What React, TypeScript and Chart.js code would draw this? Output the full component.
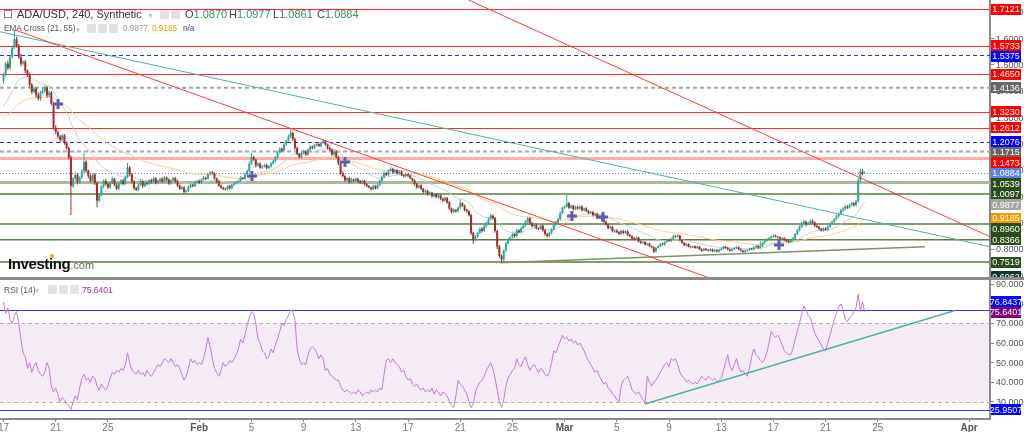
import React, { useEffect, useRef } from "react";
import { Chart, registerables } from "chart.js";

Chart.register(...registerables);

const FONT = '"Liberation Sans", Arial, Helvetica, sans-serif';

// ---------- time axis (days since Jan 17) ----------
const xTickDays = [0, 4, 8, 15, 19, 23, 27, 31, 35, 39, 43, 47, 51, 55, 59, 63, 67, 74];
const xTickLabels = ["17", "21", "25", "Feb", "5", "9", "13", "17", "21", "25", "Mar", "5", "9", "13", "17", "21", "25", "Apr"];
const candlesPerDay = 6; // 240-minute candles
const viewDays = [-0.27, 75.6];

// ---------- price (ADA/USD 4h) ----------
const firstOpen = 1.44;
const closes = [
  1.462, 1.505, 1.488, 1.530, 1.566, 1.598,
  1.572, 1.530, 1.505, 1.512, 1.478, 1.462,
  1.425, 1.398, 1.410, 1.385, 1.372, 1.395,
  1.402, 1.415, 1.384, 1.395, 1.352, 1.262,
  1.245, 1.228, 1.215, 1.232, 1.205, 1.185,
  1.148, 1.040, 1.068, 1.082, 1.055, 1.072,
  1.095, 1.132, 1.098, 1.078, 1.060, 1.084,
  1.052, 0.985, 1.005, 1.038, 1.060, 1.048,
  1.035, 1.052, 1.068, 1.045, 1.030, 1.050,
  1.062, 1.048, 1.075, 1.110, 1.085, 1.058,
  1.032, 1.025, 1.045, 1.058, 1.040, 1.052,
  1.048, 1.062, 1.055, 1.070, 1.052, 1.060,
  1.068, 1.058, 1.072, 1.065, 1.050, 1.062,
  1.070, 1.058, 1.042, 1.030, 1.035, 1.018,
  1.022, 1.038, 1.045, 1.040, 1.055, 1.060,
  1.052, 1.065, 1.072, 1.068, 1.085, 1.092,
  1.088, 1.070, 1.058, 1.042, 1.035, 1.030,
  1.028, 1.040, 1.032, 1.045, 1.050, 1.055,
  1.060, 1.072, 1.068, 1.085, 1.098, 1.125,
  1.150, 1.140, 1.118, 1.125, 1.110, 1.115,
  1.120, 1.108, 1.115, 1.125, 1.135, 1.150,
  1.168, 1.182, 1.175, 1.198, 1.212, 1.228,
  1.242, 1.218, 1.185, 1.162, 1.150, 1.165,
  1.172, 1.160, 1.178, 1.190, 1.185, 1.195,
  1.200, 1.192, 1.205, 1.210, 1.198, 1.185,
  1.178, 1.160, 1.172, 1.150, 1.125, 1.090,
  1.078, 1.062, 1.070, 1.055, 1.065, 1.060,
  1.068, 1.058, 1.052, 1.060, 1.048, 1.040,
  1.035, 1.028, 1.040, 1.032, 1.045, 1.060,
  1.075, 1.090, 1.082, 1.098, 1.105, 1.092,
  1.100, 1.088, 1.095, 1.082, 1.078, 1.085,
  1.080, 1.070, 1.062, 1.048, 1.035, 1.042,
  1.030, 1.018, 1.022, 1.008, 1.015, 1.002,
  1.010, 0.998, 1.005, 0.992, 0.985, 0.995,
  0.978, 0.955, 0.942, 0.950, 0.945, 0.958,
  0.975, 0.965, 0.950, 0.945, 0.930, 0.862,
  0.835, 0.848, 0.862, 0.878, 0.870, 0.888,
  0.900, 0.915, 0.928, 0.918, 0.870, 0.810,
  0.775, 0.762, 0.795, 0.822, 0.838, 0.845,
  0.858, 0.850, 0.872, 0.865, 0.880, 0.890,
  0.905, 0.918, 0.900, 0.888, 0.892, 0.880,
  0.878, 0.890, 0.872, 0.858, 0.850, 0.862,
  0.875, 0.892, 0.902, 0.915, 0.938, 0.958,
  0.962, 0.975, 0.958, 0.965, 0.952, 0.960,
  0.955, 0.962, 0.948, 0.955, 0.945, 0.938,
  0.942, 0.930, 0.935, 0.918, 0.925, 0.915,
  0.905, 0.895, 0.880, 0.885, 0.868, 0.872,
  0.865, 0.858, 0.870, 0.862, 0.868, 0.855,
  0.850, 0.842, 0.838, 0.845, 0.830, 0.825,
  0.828, 0.818, 0.822, 0.812, 0.808, 0.792,
  0.805, 0.812, 0.820, 0.818, 0.828, 0.835,
  0.832, 0.840, 0.850, 0.848, 0.852, 0.835,
  0.825, 0.815, 0.820, 0.810, 0.808, 0.812,
  0.805, 0.810, 0.800, 0.795, 0.802, 0.798,
  0.795, 0.800, 0.793, 0.797, 0.792, 0.798,
  0.802, 0.810, 0.805, 0.800, 0.795, 0.800,
  0.805, 0.808, 0.800, 0.795, 0.790, 0.795,
  0.798, 0.803, 0.800, 0.808, 0.812, 0.806,
  0.812, 0.825, 0.832, 0.838, 0.842, 0.848,
  0.852, 0.848, 0.845, 0.840, 0.842, 0.836,
  0.832, 0.828, 0.835, 0.842, 0.858, 0.872,
  0.885, 0.898, 0.905, 0.895, 0.900, 0.908,
  0.902, 0.890, 0.885, 0.878, 0.872, 0.880,
  0.875, 0.885, 0.898, 0.905, 0.915, 0.925,
  0.935, 0.948, 0.955, 0.962, 0.958, 0.968,
  0.975, 0.968, 0.982, 1.062, 1.095, 1.087,
  1.0884,
];
// wick extents beyond the body, in thousandths
const wickUp = [
  8, 6, 12, 5, 9, 34,
  10, 8, 12, 6, 7, 5,
  9, 6, 8, 5, 10, 6,
  12, 7, 5, 9, 6, 5,
  8, 6, 7, 5, 6, 4,
  5, 8, 6, 10, 7, 5,
  9, 34, 6, 5, 7, 6,
  6, 4, 8, 6, 5, 7,
  6, 5, 8, 4, 6, 5,
  4, 6, 5, 18, 6, 5,
  4, 6, 5, 7, 4, 5,
  5, 4, 6, 5, 4, 5,
  4, 6, 5, 4, 5, 4,
  5, 4, 6, 4, 5, 4,
  5, 4, 6, 4, 5, 4,
  5, 4, 6, 4, 5, 4,
  5, 4, 3, 5, 4, 3,
  4, 3, 5, 4, 3, 4,
  4, 5, 3, 6, 5, 8,
  16, 5, 4, 6, 5, 4,
  4, 5, 4, 6, 5, 4,
  6, 5, 4, 7, 5, 8,
  16, 5, 6, 4, 5, 4,
  5, 4, 6, 5, 4, 5,
  6, 5, 4, 8, 5, 4,
  4, 5, 6, 4, 5, 4,
  6, 5, 4, 5, 6, 4,
  5, 4, 5, 4, 3, 4,
  4, 3, 5, 4, 5, 6,
  5, 6, 4, 5, 8, 4,
  5, 4, 5, 4, 3, 4,
  4, 5, 3, 4, 5, 4,
  5, 4, 5, 4, 5, 4,
  5, 4, 6, 4, 5, 4,
  4, 5, 4, 6, 4, 5,
  15, 4, 5, 4, 3, 5,
  5, 6, 4, 5, 6, 4,
  5, 6, 7, 4, 5, 4,
  6, 5, 4, 6, 5, 4,
  5, 4, 6, 4, 5, 4,
  6, 5, 4, 5, 6, 4,
  4, 5, 4, 6, 5, 4,
  5, 4, 6, 5, 6, 4,
  5, 31, 6, 5, 4, 5,
  4, 5, 6, 4, 5, 4,
  5, 4, 5, 4, 5, 4,
  5, 4, 3, 5, 4, 3,
  4, 5, 4, 3, 5, 4,
  4, 3, 5, 4, 3, 4,
  3, 4, 3, 4, 3, 4,
  4, 3, 4, 5, 3, 4,
  4, 5, 6, 4, 5, 3,
  4, 3, 4, 3, 4, 3,
  3, 4, 3, 4, 3, 4,
  3, 4, 3, 4, 3, 4,
  3, 4, 3, 4, 3, 4,
  3, 4, 3, 4, 3, 4,
  3, 4, 3, 4, 5, 4,
  20, 4, 5, 4, 5, 4,
  5, 4, 3, 4, 5, 4,
  4, 3, 4, 5, 4, 5,
  5, 6, 8, 4, 5, 6,
  5, 4, 3, 4, 3, 4,
  4, 5, 4, 5, 4, 6,
  5, 6, 5, 6, 5, 6,
  5, 4, 6, 8, 12, 10,
  9.3,
];
const wickDown = [
  12, 8, 6, 9, 7, 5,
  6, 8, 10, 6, 9, 7,
  8, 9, 6, 10, 7, 8,
  6, 9, 10, 7, 5, 8,
  8, 7, 9, 6, 8, 6,
  6, 110, 7, 6, 9, 6,
  5, 6, 7, 8, 6, 5,
  8, 25, 6, 5, 6, 7,
  6, 5, 4, 6, 5, 6,
  5, 6, 4, 5, 6, 7,
  6, 5, 4, 5, 6, 4,
  5, 4, 5, 4, 6, 5,
  4, 5, 4, 6, 5, 4,
  4, 5, 6, 5, 4, 6,
  5, 4, 5, 4, 5, 4,
  4, 5, 4, 6, 4, 5,
  4, 5, 6, 4, 5, 6,
  5, 4, 5, 4, 5, 4,
  4, 5, 4, 5, 4, 5,
  5, 4, 6, 5, 4, 5,
  4, 5, 4, 5, 4, 5,
  5, 4, 5, 4, 5, 4,
  5, 6, 7, 5, 6, 5,
  4, 6, 5, 4, 5, 4,
  5, 4, 5, 4, 5, 6,
  5, 6, 4, 5, 6, 7,
  5, 6, 4, 5, 4, 5,
  4, 5, 4, 5, 6, 5,
  4, 5, 4, 5, 4, 5,
  4, 5, 4, 5, 4, 6,
  5, 4, 5, 4, 5, 4,
  5, 4, 5, 6, 5, 4,
  5, 6, 4, 5, 4, 6,
  5, 4, 5, 6, 5, 4,
  5, 6, 7, 5, 6, 5,
  5, 4, 5, 6, 5, 8,
  15, 5, 4, 5, 6, 4,
  5, 4, 5, 6, 7, 9,
  8, 10, 6, 5, 4, 5,
  5, 6, 4, 5, 4, 5,
  4, 5, 6, 5, 4, 5,
  5, 4, 5, 6, 5, 4,
  5, 4, 5, 4, 5, 4,
  5, 4, 5, 4, 5, 4,
  4, 5, 4, 5, 4, 5,
  4, 5, 4, 5, 4, 5,
  4, 5, 4, 5, 4, 5,
  4, 3, 4, 5, 4, 5,
  4, 5, 4, 3, 4, 5,
  4, 3, 4, 3, 4, 6,
  4, 3, 4, 3, 4, 3,
  3, 4, 3, 4, 3, 4,
  4, 3, 4, 3, 4, 3,
  3, 4, 3, 4, 3, 4,
  3, 4, 3, 4, 3, 4,
  3, 4, 3, 4, 3, 4,
  3, 4, 3, 4, 3, 4,
  3, 4, 3, 4, 3, 4,
  4, 3, 4, 3, 4, 3,
  4, 3, 4, 3, 4, 3,
  4, 5, 3, 4, 3, 4,
  4, 5, 4, 6, 4, 5,
  4, 5, 4, 5, 4, 5,
  4, 5, 4, 5, 4, 5,
  5, 4, 5, 6, 5, 4,
  5, 6, 5, 5, 8, 6,
  0.9,
];
const ema21Start = 1.33;
const ema55Start = 1.29;
const emaLast = [0.9877, 0.9185];
const lastOHLC = [1.087, 1.0977, 1.0861, 1.0884];

const priceTicks = [0.7, 0.8, 0.9, 1.0, 1.1, 1.2, 1.3, 1.4, 1.5, 1.6, 1.7];
const priceRange = [0.695, 1.7463];
const priceLevels = [1.7121, 1.5733, 1.5375, 1.465, 1.4136, 1.323, 1.2612, 1.2076, 1.1715, 1.1473, 1.0884, 1.0539, 1.0097, 0.896, 0.8366, 0.7519, 0.6962];
const priceLevelKinds = ["red", "red", "blueDash", "red", "grayDash", "red", "red", "blueDash", "grayDash", "pink", "current", "sage", "green", "green", "green", "green", "dark"];

const crossDays = [4.18, 19.04, 26.17, 43.56, 45.94, 59.43];
const crossPrices = [1.3516, 1.0783, 1.1314, 0.9265, 0.9227, 0.8164];

const trendRed1 = [[0.88, 1.6324], [54.9, 0.6772]];
const trendRed2 = [[35.65, 1.7463], [75.59, 0.848]];
const trendTeal = [[-0.27, 1.6259], [75.59, 0.81]];
const trendSupport = [[38.05, 0.7493], [70.61, 0.81]];

// ---------- RSI (14) ----------
const rsi = [
  81, 75, 78, 72, 70, 74,
  76, 70, 62, 55, 53, 47,
  50, 45, 48, 50, 46, 44,
  43, 45, 50, 47, 38, 35,
  37, 34, 30, 32, 31, 29,
  28, 26, 30, 33, 31, 37,
  42, 44, 41, 42, 40, 43,
  42, 38, 36, 39, 37, 36,
  38, 42, 45, 44, 46, 45,
  47, 46, 49, 55, 50, 46,
  45, 44, 46, 44, 45, 43,
  46, 44, 43, 45, 47, 49,
  48, 50, 52, 51, 50, 52,
  50, 48, 49, 47, 44, 41,
  43, 47, 52, 50, 51, 49,
  50, 49, 52, 57, 63, 58,
  52, 47, 45, 43, 46, 50,
  48, 49, 51, 50, 52, 54,
  57, 62, 60, 64, 69, 73,
  76, 75, 70, 62, 60, 56,
  55, 52, 53, 57, 55, 59,
  62, 66, 70, 69, 72, 74,
  77, 76, 72, 57, 52, 49,
  50, 49, 54, 57, 58, 57,
  55, 52, 54, 52, 46, 47,
  44, 43, 42, 41, 41, 38,
  36, 35, 36, 35, 34, 35,
  34, 36, 35, 33, 34, 35,
  34, 36, 35, 36, 35, 37,
  36, 44, 51, 52, 50, 52,
  50, 49, 48, 45, 46, 43,
  41, 42, 39, 38, 39, 37,
  36, 37, 35, 36, 35, 37,
  34, 36, 35, 33, 35, 34,
  33, 30, 28, 27, 33, 41,
  39, 38, 36, 34, 30, 27,
  29, 35, 38, 40, 41, 43,
  46, 48, 50, 47, 42, 36,
  30, 27, 31, 38, 42, 44,
  46, 47, 52, 49, 48, 51,
  53, 49, 46, 48, 49, 47,
  45, 47, 46, 44, 43, 45,
  50, 56, 55, 58, 61, 64,
  62, 63, 61, 62, 60, 61,
  59, 60, 58, 56, 53, 51,
  49, 47, 45, 46, 43, 41,
  39, 40, 37, 36, 34, 33,
  31, 30, 38, 41, 42, 43,
  40, 36, 35, 34, 35, 33,
  31, 29, 43, 40, 38, 40,
  41, 43, 45, 47, 49, 50,
  48, 52, 51, 52, 49, 45,
  43, 42, 40, 41, 40, 39,
  40, 39, 41, 43, 42, 41,
  43, 42, 41, 42, 40, 41,
  42, 46, 50, 54, 48, 46,
  49, 52, 48, 45, 46, 44,
  43, 47, 53, 57, 54, 53,
  51, 50, 52, 55, 60, 66,
  64, 63, 64, 62, 59, 56,
  55, 54, 54, 57, 62, 66,
  70, 75, 79, 77, 74, 73,
  69, 65, 63, 61, 59, 57,
  56, 60, 64, 68, 72, 75,
  78, 80, 77, 72, 71, 73,
  74, 76, 78, 85, 76, 81,
  75.6401,
];
const rsiTicks = [30, 40, 50, 60, 70, 80, 90];
const rsiRange = [21.17, 92.2];
const rsiBand = [30, 70];
const rsiLevels = [76.8437, 25.9507];
const rsiLast = 75.6401;
const rsiTrend = [[49.16, 28.85], [72.91, 76.6]];

// ---------- styles ----------
const UP = "#2aa898";
const DOWN = "#a22b2b";
const AXIS_W = 34;
const levelStyles: any = {
  red: { line: "#ff2a2a", width: 1, dash: [], box: "#ff0000" },
  blueDash: { line: "#2a2aff", width: 1, dash: [4, 3], box: "#0000ff" },
  grayDash: { line: "#a8a8a8", width: 2, dash: [4, 3], box: "#666666" },
  pink: { line: "rgba(255,70,70,0.45)", width: 3, dash: [], box: "#ff0000" },
  current: { line: "#5a78f0", width: 1, dash: [1, 2], box: "#5585e6" },
  sage: { line: "#aab89c", width: 3, dash: [], box: "#2d4c1b" },
  green: { line: "#5a7d44", width: 1.5, dash: [], box: "#2d4c1b" },
  dark: { line: "#2f4f4f", width: 1, dash: [], box: "#163434" },
};

function drawTickLabels(chart: any, ticks: number[]) {
  const { ctx, chartArea: a, scales } = chart;
  ctx.save();
  ctx.font = `9px ${FONT}`;
  ctx.fillStyle = "#555";
  ctx.textAlign = "left";
  ctx.textBaseline = "middle";
  ticks.forEach((v) => {
    const py = scales.y.getPixelForValue(v);
    if (py >= a.top - 1 && py <= a.bottom + 1) ctx.fillText(v.toFixed(4), a.right + 6, py + 0.5);
  });
  ctx.restore();
}

function drawBoxes(chart: any, items: any[], dir: "down" | "up") {
  const { ctx, chartArea, scales } = chart;
  const y = scales.y;
  const h = 11;
  const gap = 10.5;
  const pos = items.map((it) => ({ ...it, py: y.getPixelForValue(it.value) }));
  pos.sort((a, b) => a.py - b.py);
  if (dir === "down") {
    for (let i = 1; i < pos.length; i++) if (pos[i].py < pos[i - 1].py + gap) pos[i].py = pos[i - 1].py + gap;
  } else {
    for (let i = pos.length - 2; i >= 0; i--) if (pos[i].py > pos[i + 1].py - gap) pos[i].py = pos[i + 1].py - gap;
  }
  ctx.save();
  ctx.font = `9px ${FONT}`;
  ctx.textAlign = "center";
  ctx.textBaseline = "middle";
  pos.forEach((p) => {
    ctx.fillStyle = p.bg;
    ctx.fillRect(chartArea.right + 1, Math.round(p.py - h / 2), 30, h);
    ctx.fillStyle = "#ffffff";
    ctx.fillText(p.value.toFixed(4), chartArea.right + 16, p.py + 0.5);
  });
  ctx.restore();
}

function ema(period: number, seed: number) {
  let e = seed;
  const k = 2 / (period + 1);
  return closes.map((c) => (e = e + (c - e) * k));
}

const yAxisBase = (range: number[], ticks: number[]) => ({
  type: "linear",
  position: "right",
  min: range[0],
  max: range[1],
  beginAtZero: false,
  afterFit: (s: any) => {
    s.width = AXIS_W;
    s.paddingTop = 0;
    s.paddingBottom = 0;
  },
  afterBuildTicks: (s: any) => {
    s.ticks = ticks.map((v) => ({ value: v }));
  },
  ticks: { display: false },
  grid: { drawOnChartArea: false, drawTicks: true, tickLength: 4, color: "#888" },
  border: { display: true, color: "#8a8a8a", width: 2 },
});

function PriceChart() {
  const ref = useRef<HTMLCanvasElement>(null);
  useEffect(() => {
    const opens = closes.map((c, i) => (i === 0 ? firstOpen : closes[i - 1]));
    const highs = closes.map((c, i) => Math.max(opens[i], c) + wickUp[i] / 1000);
    const lows = closes.map((c, i) => Math.min(opens[i], c) - wickDown[i] / 1000);
    const t = closes.map((_, i) => i / candlesPerDay);
    const colors = closes.map((c, i) => (c >= opens[i] ? UP : DOWN));
    const bodies = closes.map((c, i) => {
      let lo = Math.min(opens[i], c);
      let hi = Math.max(opens[i], c);
      if (hi - lo < 0.0015) {
        const m = (hi + lo) / 2;
        lo = m - 0.00075;
        hi = m + 0.00075;
      }
      return { x: t[i], y: [lo, hi] };
    });
    const e21 = ema(21, ema21Start);
    const e55 = ema(55, ema55Start);
    const line = (pts: number[][], color: string, width: number) => ({
      type: "line",
      data: pts.map((p) => ({ x: p[0], y: p[1] })),
      borderColor: color,
      borderWidth: width,
      pointRadius: 0,
      order: 0,
    });
    const levelsPlugin = {
      id: "levels",
      beforeDatasetsDraw(chart: any) {
        const { ctx, chartArea: a, scales } = chart;
        ctx.save();
        ctx.beginPath();
        ctx.rect(a.left, a.top, a.width, a.height);
        ctx.clip();
        priceLevels.forEach((v, i) => {
          const st = levelStyles[priceLevelKinds[i]];
          let py = scales.y.getPixelForValue(v);
          if (st.width % 2 === 1) py = Math.round(py) + 0.5;
          ctx.strokeStyle = st.line;
          ctx.lineWidth = st.width;
          ctx.setLineDash(st.dash);
          ctx.beginPath();
          ctx.moveTo(a.left, py);
          ctx.lineTo(a.right, py);
          ctx.stroke();
        });
        ctx.restore();
      },
      afterDraw(chart: any) {
        drawTickLabels(chart, priceTicks);
        const items = priceLevels.map((v, i) => ({ value: v, bg: levelStyles[priceLevelKinds[i]].box }));
        items.push({ value: emaLast[0], bg: "#a6a6a6" });
        items.push({ value: emaLast[1], bg: "#ff9800" });
        drawBoxes(chart, items, "down");
      },
    };
    const chart = new Chart(ref.current as any, {
      type: "bar",
      data: {
        datasets: [
          {
            type: "line",
            data: t.map((x, i) => ({ x, y: e21[i] })),
            borderColor: "#cccccc",
            borderWidth: 1,
            pointRadius: 0,
            order: 5,
          },
          {
            type: "line",
            data: t.map((x, i) => ({ x, y: e55[i] })),
            borderColor: "#ffcc85",
            borderWidth: 1,
            pointRadius: 0,
            order: 5,
          },
          {
            type: "bar",
            data: t.map((x, i) => ({ x, y: [lows[i], highs[i]] })),
            backgroundColor: colors,
            barThickness: 1,
            grouped: false,
            inflateAmount: 0,
            order: 3,
          },
          {
            type: "bar",
            data: bodies,
            backgroundColor: colors,
            barThickness: 2,
            grouped: false,
            inflateAmount: 0,
            order: 2,
          },
          line(trendRed1, "#ff3b3b", 1),
          line(trendRed2, "#ff3b3b", 1),
          line(trendTeal, "#4fb3a0", 1),
          line(trendSupport, "#7f9468", 1.5),
          {
            type: "line",
            data: crossDays.map((d, i) => ({ x: d, y: crossPrices[i] })),
            showLine: false,
            pointStyle: "cross",
            pointRadius: 5,
            borderWidth: 3,
            borderColor: "#5d5ea8",
            order: 0,
          },
        ] as any,
      },
      options: {
        animation: false,
        responsive: false,
        maintainAspectRatio: false,
        events: [],
        layout: { padding: 0, autoPadding: false },
        plugins: { legend: { display: false }, tooltip: { enabled: false } },
        scales: {
          x: { type: "linear", min: viewDays[0], max: viewDays[1], display: false, offset: false },
          y: yAxisBase(priceRange, priceTicks),
        },
      } as any,
      plugins: [levelsPlugin],
    });
    return () => chart.destroy();
  }, []);
  return <canvas ref={ref} width={1024} height={277} style={{ position: "absolute", left: 0, top: 0 }} />;
}

function RsiChart() {
  const ref = useRef<HTMLCanvasElement>(null);
  useEffect(() => {
    const t = rsi.map((_, i) => i / candlesPerDay);
    const isMonth = (i: number) => isNaN(Number(xTickLabels[i]));
    const rsiPlugin = {
      id: "rsiDecor",
      beforeDatasetsDraw(chart: any) {
        const { ctx, chartArea: a, scales } = chart;
        const y = scales.y;
        ctx.save();
        const yTop = y.getPixelForValue(rsiBand[1]);
        const yBot = y.getPixelForValue(rsiBand[0]);
        ctx.fillStyle = "rgba(150, 60, 160, 0.1)";
        ctx.fillRect(a.left, yTop, a.width, yBot - yTop);
        ctx.strokeStyle = "#b0b0b0";
        ctx.lineWidth = 1;
        ctx.setLineDash([4, 3]);
        [yTop, yBot].forEach((py) => {
          ctx.beginPath();
          ctx.moveTo(a.left, Math.round(py) + 0.5);
          ctx.lineTo(a.right, Math.round(py) + 0.5);
          ctx.stroke();
        });
        ctx.setLineDash([]);
        ctx.strokeStyle = "#3535ff";
        rsiLevels.forEach((v) => {
          const py = Math.round(y.getPixelForValue(v)) + 0.5;
          ctx.beginPath();
          ctx.moveTo(a.left, py);
          ctx.lineTo(a.right, py);
          ctx.stroke();
        });
        ctx.restore();
      },
      afterDraw(chart: any) {
        drawTickLabels(chart, rsiTicks);
        drawBoxes(
          chart,
          [
            { value: rsiLevels[0], bg: "#0000ff" },
            { value: rsiLast, bg: "#800080" },
            { value: rsiLevels[1], bg: "#0000ff" },
          ],
          "up"
        );
      },
    };
    const chart = new Chart(ref.current as any, {
      type: "line",
      data: {
        datasets: [
          {
            data: t.map((x, i) => ({ x, y: rsi[i] })),
            borderColor: "#c27ad6",
            borderWidth: 1,
            pointRadius: 0,
            order: 2,
          },
          {
            data: rsiTrend.map((p) => ({ x: p[0], y: p[1] })),
            borderColor: "#4fb3a0",
            borderWidth: 1.5,
            pointRadius: 0,
            order: 1,
          },
        ],
      },
      options: {
        animation: false,
        responsive: false,
        maintainAspectRatio: false,
        events: [],
        layout: { padding: 0, autoPadding: false },
        plugins: { legend: { display: false }, tooltip: { enabled: false } },
        scales: {
          x: {
            type: "linear",
            min: viewDays[0],
            max: viewDays[1],
            offset: false,
            afterFit: (s: any) => {
              s.height = 13;
              s.paddingLeft = 0;
              s.paddingRight = 0;
            },
            afterBuildTicks: (s: any) => {
              s.ticks = xTickDays.map((v) => ({ value: v }));
            },
            ticks: {
              autoSkip: false,
              maxRotation: 0,
              minRotation: 0,
              padding: 0,
              callback: (_v: any, i: number) => xTickLabels[i],
              font: (c: any) => ({ family: FONT, size: 10, weight: isMonth(c.index) ? "bold" : "normal" }),
              color: (c: any) => (isMonth(c.index) ? "#555" : "#777"),
            },
            grid: { drawOnChartArea: false, drawTicks: true, tickLength: 3, color: "#888" },
            border: { display: true, color: "#8a8a8a", width: 2 },
          },
          y: yAxisBase(rsiRange, rsiTicks),
        },
      } as any,
      plugins: [rsiPlugin],
    });
    return () => chart.destroy();
  }, []);
  return <canvas ref={ref} width={1024} height={152} style={{ position: "absolute", left: 0, top: 280 }} />;
}

const Icon = ({ x, y, s = 10 }: any) => (
  <div style={{ position: "absolute", left: x, top: y, width: s, height: s, background: "#e2e2e2", borderRadius: 1 }} />
);

function Overlay() {
  const abs: any = { position: "absolute", whiteSpace: "nowrap", lineHeight: "1" };
  const ohlcNames = ["O", "H", "L", "C"];
  return (
    <div style={{ position: "absolute", left: 0, top: 0, width: 1024, height: 432, pointerEvents: "none", fontFamily: FONT }}>
      <div style={{ ...abs, left: 4, top: 10, width: 8, height: 8, border: "1px solid #888", boxSizing: "border-box" }} />
      <div style={{ ...abs, left: 17, top: 9, fontSize: 11, color: "#333" }}>ADA/USD, 240, Synthetic</div>
      <div style={{ ...abs, left: 147, top: 12, fontSize: 7, color: "#bbb" }}>▼</div>
      <Icon x={160} y={10} s={9} />
      <Icon x={171} y={10} s={9} />
      {lastOHLC.map((v, i) => (
        <div key={i} style={{ ...abs, left: 185 + i * 44, top: 9, fontSize: 11 }}>
          <span style={{ color: "#444" }}>{ohlcNames[i]}</span>
          <span style={{ color: "#3c8f5a" }}>{v.toFixed(4)}</span>
        </div>
      ))}
      <div style={{ ...abs, left: 4, top: 25, fontSize: 8.2, color: "#555" }}>EMA Cross (21, 55)</div>
      <div style={{ ...abs, left: 75, top: 27, fontSize: 6, color: "#bbb" }}>▼</div>
      <Icon x={87} y={24} s={9} />
      <Icon x={98} y={24} s={9} />
      <Icon x={109} y={24} s={9} />
      <div style={{ ...abs, left: 123, top: 25, fontSize: 8.2, color: "#9a9a9a" }}>{emaLast[0].toFixed(4)}</div>
      <div style={{ ...abs, left: 152, top: 25, fontSize: 8.2, color: "#ff9800" }}>{emaLast[1].toFixed(4)}</div>
      <div style={{ ...abs, left: 183, top: 25, fontSize: 8.2, color: "#3b3b9e" }}>n/a</div>

      <div style={{ ...abs, left: 8, top: 256, fontSize: 15, fontWeight: "bold", color: "#111", letterSpacing: -0.4 }}>
        Investing<span style={{ fontSize: 11, fontWeight: "normal", color: "#666", letterSpacing: 0 }}>.com</span>
      </div>
      <div style={{ ...abs, left: 50, top: 254, width: 4, height: 4, borderRadius: 2, background: "#f7a21b" }} />

      <div style={{ ...abs, left: 4, top: 286, fontSize: 8.5, color: "#555" }}>RSI (14)</div>
      <div style={{ ...abs, left: 34, top: 288, fontSize: 6, color: "#bbb" }}>▼</div>
      <Icon x={48} y={285} s={9} />
      <Icon x={59} y={285} s={9} />
      <Icon x={70} y={285} s={9} />
      <div style={{ ...abs, left: 82, top: 286, fontSize: 8.5, color: "#9c2ca8" }}>{rsiLast.toFixed(4)}</div>
    </div>
  );
}

export default function App() {
  useEffect(() => {
    document.body.style.margin = "0";
  }, []);
  return (
    <div style={{ position: "fixed", left: 0, top: 0, width: 1024, height: 432, background: "#fff", overflow: "hidden" }}>
      <PriceChart />
      <div style={{ position: "absolute", left: 0, top: 277, width: 1024, height: 3, background: "#8c8c8c" }} />
      <RsiChart />
      <Overlay />
    </div>
  );
}
